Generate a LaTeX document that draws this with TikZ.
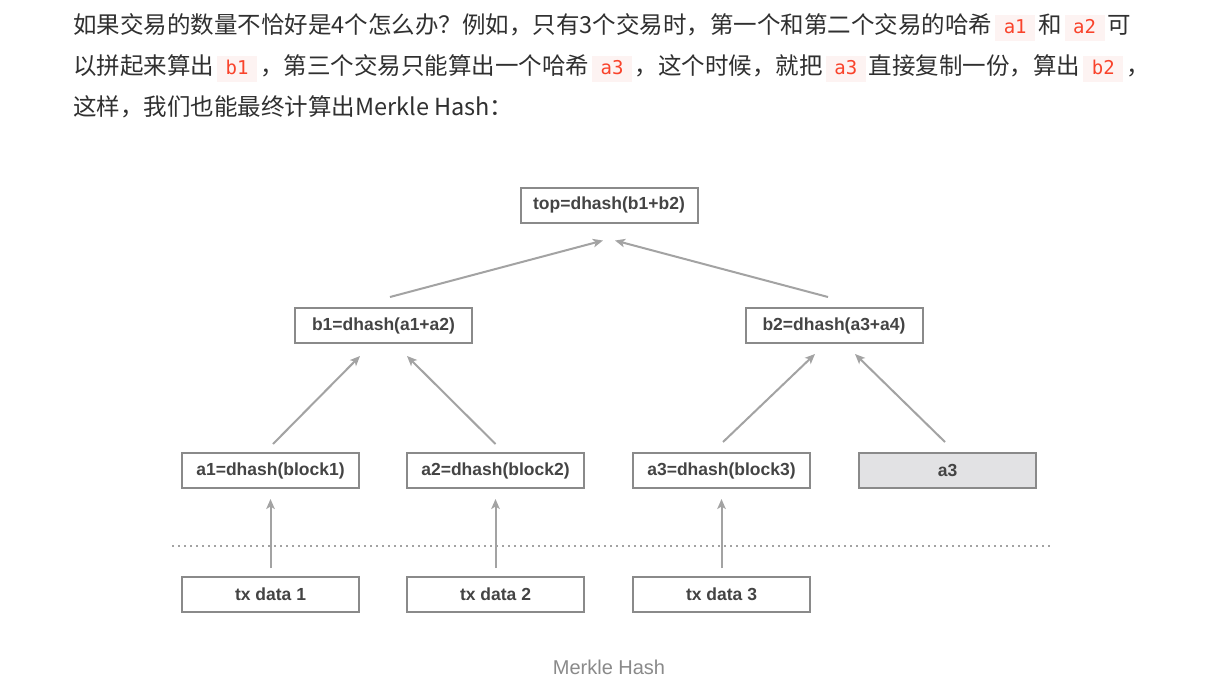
\documentclass[tikz,border=0pt]{standalone}
\usepackage{fontspec}
\usetikzlibrary{arrows.meta}
\newfontfamily\cjkfont{Noto Sans CJK SC}
\newfontfamily\codefont{DejaVu Sans Mono}
\newfontfamily\boxfont{Liberation Sans}
\definecolor{bodytext}{HTML}{303030}
\definecolor{codered}{HTML}{F9432B}
\definecolor{codebg}{HTML}{FDF3F2}
\definecolor{boxline}{HTML}{8A8A8A}
\definecolor{boxtext}{HTML}{444444}
\definecolor{arrowgray}{HTML}{A3A3A3}
\definecolor{copyfill}{HTML}{E2E2E4}
\definecolor{captiongray}{HTML}{8A8A8A}
\newcommand\code[1]{{\setlength\fboxsep{0pt}\hspace{3pt}\colorbox{codebg}{\rule[-7pt]{0pt}{26pt}\hspace{8.5pt}\textcolor{codered}{\codefont\fontsize{19pt}{19pt}\selectfont #1}\hspace{8.5pt}}\hspace{3pt}}}
\tikzset{
	hashbox/.style={draw=boxline, line width=2pt, minimum width=177pt, minimum height=35pt, inner sep=0pt, text=boxtext, font=\boxfont\bfseries\fontsize{17.5pt}{17.5pt}\selectfont},
	copybox/.style={hashbox, fill=copyfill},
	uparrow/.style={draw=arrowgray, line width=2pt, -{Stealth[length=10pt, width=8.5pt, inset=2.5pt]}},
	textline/.style={anchor=base west, inner sep=0pt, text=bodytext, font=\cjkfont\fontsize{23.5pt}{23.5pt}\selectfont}
}
\begin{document}
\begin{tikzpicture}[x=1pt, y=-1pt]
		\useasboundingbox[fill=white] (0, 0) rectangle (1212, 682);
		% text above the picture
		\node[textline] (line1) at (73, 34) {如果交易的数量不恰好是4个怎么办？例如，只有3个交易时，第一个和第二个交易的哈希\code{a1}和\code{a2}可};
		\node[textline] (line2) at (73, 75) {以拼起来算出\code{b1}，第三个交易只能算出一个哈希\code{a3}，这个时候，就把\code{a3}直接复制一份，算出\code{b2}，};
		\node[textline] (line3) at (73, 116) {这样，我们也能最终计算出Merkle Hash：};
		% tree
		\node[hashbox] (top) at (609, 205) {top=dhash(b1+b2)};
		\node[hashbox] (b1) at (383.5, 325.5) {b1=dhash(a1+a2)};
		\node[hashbox] (b2) at (834, 325.5) {b2=dhash(a3+a4)};
		\node[hashbox] (a1) at (270.5, 470.5) {a1=dhash(block1)};
		\node[hashbox] (a2) at (495.5, 470.5) {a2=dhash(block2)};
		\node[hashbox] (a3) at (721.5, 470.5) {a3=dhash(block3)};
		\node[copybox] (a3copy) at (947.5, 470.5) {a3};
		\node[hashbox] (tx1) at (270.5, 594.5) {tx data 1};
		\node[hashbox] (tx2) at (495.5, 594.5) {tx data 2};
		\node[hashbox] (tx3) at (721.5, 594.5) {tx data 3};
		\draw[uparrow] ([xshift=6.5pt, yshift=10pt]b1.north) -- ([xshift=-6pt, yshift=-17pt]top.south);
		\draw[uparrow] ([xshift=-6pt, yshift=10pt]b2.north) -- ([xshift=6pt, yshift=-17pt]top.south);
		\draw[uparrow] ([xshift=2.5pt, yshift=8pt]a1.north) -- ([xshift=-23.5pt, yshift=-12pt]b1.south);
		\draw[uparrow] ([yshift=8pt]a2.north) -- ([xshift=23.5pt, yshift=-12pt]b1.south);
		\draw[uparrow] ([xshift=1.5pt, yshift=10pt]a3.north) -- ([xshift=-19pt, yshift=-10pt]b2.south);
		\draw[uparrow] ([xshift=-2.5pt, yshift=10pt]a3copy.north) -- ([xshift=21pt, yshift=-10pt]b2.south);
		\draw[uparrow] ([yshift=8pt]tx1.north) -- ([yshift=-10pt]a1.south);
		\draw[uparrow] ([yshift=8pt]tx2.north) -- ([yshift=-10pt]a2.south);
		\draw[uparrow] ([yshift=8pt]tx3.north) -- ([yshift=-10pt]a3.south);
		% dotted divider
		\coordinate (divleft) at (172, 546);
		\coordinate (divright) at (1053, 546);
		\draw[arrowgray, line width=1.5pt, dash pattern=on 1.5pt off 4.5pt] (divleft) -- (divright);
		\node[anchor=base, inner sep=0pt, text=captiongray, font=\boxfont\fontsize{20pt}{20pt}\selectfont] (caption) at (609, 674) {Merkle Hash};
	\end{tikzpicture}
\end{document}
